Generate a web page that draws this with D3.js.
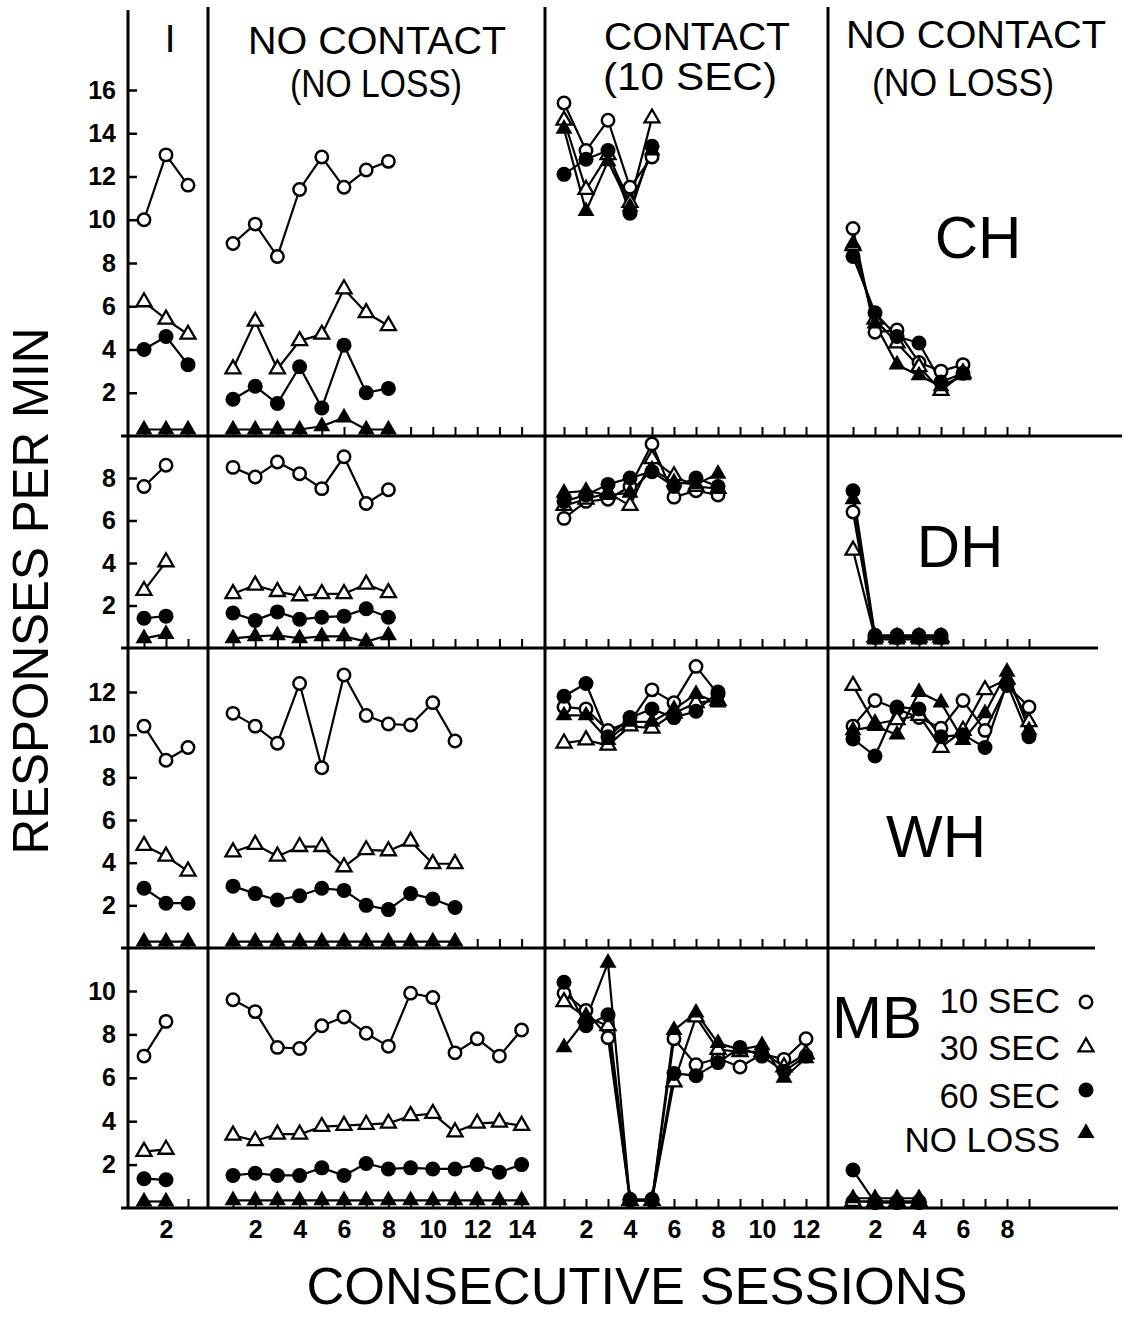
<!DOCTYPE html>
<html><head><meta charset="utf-8">
<script src="https://cdn.jsdelivr.net/npm/d3@7"></script>
<style>body{margin:0;background:#fff}svg{display:block}</style>
</head><body>
<svg id="c" width="1129" height="1317"></svg>
<script>
// ---------- categories / labels ----------
const seriesNames = ["10 SEC", "30 SEC", "60 SEC", "NO LOSS"];
const subjects = ["CH", "DH", "WH", "MB"];
const phaseTitles = [["I"], ["NO CONTACT", "(NO LOSS)"], ["CONTACT", "(10 SEC)"], ["NO CONTACT", "(NO LOSS)"]];
const yTickValues = [[2,4,6,8,10,12,14,16], [2,4,6,8], [2,4,6,8,10,12], [2,4,6,8,10]];
const yTopTick = [16, 8, 12, 10];
const phaseSessionTicks = [3, 14, 12, 9];
const phaseTickLabels = [[2], [2,4,6,8,10,12,14], [2,4,6,8,10,12], [2,4,6,8]];

// ---------- data: each array = [10 SEC, 30 SEC, 60 SEC, NO LOSS] ----------
const CH_I   = [[10.0,13.0,11.6],[6.2,5.4,4.7],[4.0,4.6,3.3],[0.3,0.3,0.3]];
const CH_NC1 = [[8.9,9.8,8.3,11.4,12.9,11.5,12.3,12.7],
                [3.1,5.3,3.1,4.4,4.7,6.8,5.7,5.1],
                [1.7,2.3,1.5,3.2,1.3,4.2,2.0,2.2],
                [0.3,0.3,0.3,0.3,0.45,0.85,0.3,0.3]];
const CH_C   = [[15.4,13.2,14.6,11.5,12.9],
                [14.6,11.4,13.0,10.8,14.7],
                [12.1,12.8,13.2,10.3,13.4],
                [14.2,10.4,12.7,10.6,13.2]];
const CH_NC2 = [[9.6,4.8,4.9,3.4,3.0,3.3],
                [8.8,5.4,4.3,3.2,2.1,2.9],
                [8.3,5.7,4.6,4.3,2.5,2.9],
                [8.9,5.2,3.3,2.8,2.3,2.8]];

const DH_I   = [[7.6,8.6],[2.7,4.05],[1.4,1.5],[0.45,0.65]];
const DH_NC1 = [[8.5,8.05,8.75,8.2,7.5,9.0,6.8,7.45],
                [2.55,2.95,2.65,2.45,2.55,2.55,3.0,2.6],
                [1.65,1.3,1.7,1.35,1.45,1.5,1.85,1.45],
                [0.45,0.55,0.6,0.45,0.55,0.55,0.3,0.6]];
const DH_C   = [[6.1,6.9,7.0,7.6,9.6,7.1,7.4,7.2],
                [6.7,7.0,7.3,6.7,8.9,8.1,7.6,7.5],
                [6.9,7.2,7.7,8.0,8.3,7.6,8.0,7.6],
                [7.3,7.4,7.2,7.3,8.4,7.8,7.7,8.2]];
const DH_NC2 = [[6.4,0.5,0.5,0.5,0.5],
                [4.6,0.5,0.5,0.5,0.5],
                [7.4,0.6,0.6,0.6,0.6],
                [7.0,0.4,0.4,0.4,0.4]];

const WH_I   = [[10.4,8.8,9.4],[4.8,4.3,3.6],[2.8,2.1,2.1],[0.3,0.3,0.3]];
const WH_NC1 = [[11.0,10.4,9.6,12.4,8.45,12.8,10.9,10.5,10.45,11.5,9.7],
                [4.5,4.85,4.3,4.75,4.75,3.8,4.6,4.55,5.0,3.95,3.95],
                [2.9,2.55,2.25,2.45,2.8,2.7,2.0,1.8,2.55,2.3,1.9],
                [0.3,0.3,0.3,0.3,0.3,0.3,0.3,0.3,0.3,0.3,0.3]];
const WH_C   = [[11.3,11.2,10.2,10.6,12.1,11.5,13.2,11.9],
                [9.6,9.75,9.5,10.4,10.3,11.0,11.5,11.6],
                [11.8,12.4,9.9,10.8,11.2,10.8,11.1,12.0],
                [10.9,10.9,9.75,10.6,10.6,11.2,11.9,11.5]];
const WH_NC2 = [[10.4,11.6,11.2,10.8,10.3,11.6,10.2,12.3,11.3],
                [12.3,10.5,10.7,10.9,9.4,10.2,12.1,12.6,10.6],
                [9.8,9.0,11.3,11.2,9.9,10.0,9.4,12.4,9.9],
                [10.2,10.4,10.0,12.0,11.5,9.75,11.0,12.95,10.2]];

const MB_I   = [[7.0,8.6],[2.6,2.7],[1.35,1.3],[0.3,0.3]];
const MB_NC1 = [[9.6,9.05,7.4,7.35,8.4,8.8,8.05,7.45,9.9,9.7,7.15,7.8,7.0,8.2],
                [3.35,3.1,3.4,3.4,3.75,3.8,3.85,3.9,4.25,4.35,3.5,3.9,3.95,3.8],
                [1.5,1.6,1.5,1.5,1.85,1.5,2.05,1.8,1.85,1.8,1.8,2.0,1.65,2.0],
                [0.35,0.35,0.35,0.35,0.35,0.35,0.35,0.35,0.35,0.35,0.35,0.35,0.35,0.35]];
const MB_C   = [[9.9,9.1,7.85,0.35,0.35,7.8,6.6,6.9,6.5,7.1,6.85,7.8],
                [9.5,8.8,8.4,0.35,0.35,5.8,8.8,7.3,7.2,7.2,6.5,7.1],
                [10.4,8.4,8.9,0.4,0.4,6.2,6.1,6.7,7.4,7.0,6.3,7.0],
                [7.4,8.7,11.3,0.35,0.35,8.2,9.0,7.6,7.3,7.5,6.0,6.9]];
const MB_NC2 = [[0.3,0.3,0.3,0.3],
                [0.3,0.3,0.3,0.3],
                [1.75,0.25,0.25,0.25],
                [0.45,0.45,0.45,0.45]];

const panelData = [
  [CH_I, CH_NC1, CH_C, CH_NC2],
  [DH_I, DH_NC1, DH_C, DH_NC2],
  [WH_I, WH_NC1, WH_C, WH_NC2],
  [MB_I, MB_NC1, MB_C, MB_NC2]
];

// ---------- layout ----------
const FONT = "'Liberation Sans', Arial, Helvetica, sans-serif";
const axisX = 128;
const colEdges = [128, 208, 545, 828];
const colSession1 = [144, 233, 564, 853];
const colStep = [22, 22.2, 22, 22];
const rowBottom = [436, 648, 948, 1208];
const rowTopTickPx = [90, 478, 692, 991];
const rowLineEnd = [1122, 1098, 1095, 1118];

const svg = d3.select("#c");
svg.append("rect").attr("width", 1129).attr("height", 1317).attr("fill", "#fff");

const yScales = rowBottom.map((b, r) =>
  d3.scaleLinear().domain([0, yTopTick[r]]).range([b, rowTopTickPx[r]]));
const xScales = colSession1.map((s1, c) =>
  d3.scaleLinear().domain([1, 2]).range([s1, s1 + colStep[c]]));

// frame lines
const frame = svg.append("g").attr("stroke", "#000").attr("stroke-width", 3).attr("fill", "none");
frame.append("line").attr("x1", axisX).attr("x2", axisX).attr("y1", 10).attr("y2", 1209);
colEdges.slice(1).forEach(x => {
  frame.append("line").attr("x1", x).attr("x2", x).attr("y1", 7).attr("y2", 1209);
});
rowBottom.forEach((b, r) => {
  frame.append("line").attr("x1", 121).attr("x2", rowLineEnd[r]).attr("y1", b).attr("y2", b);
});

// y axes
yScales.forEach((y, r) => {
  const g = svg.append("g").attr("transform", `translate(${axisX},0)`)
    .call(d3.axisLeft(y).tickValues(yTickValues[r]).tickSizeInner(-9).tickSizeOuter(0).tickPadding(12));
  g.select(".domain").remove();
  g.selectAll(".tick line").attr("stroke", "#000").attr("stroke-width", 2.5);
  g.selectAll(".tick text").attr("font-family", FONT).attr("font-weight", "bold")
    .attr("font-size", 25).attr("fill", "#000");
});

// x axes (ticks on every row, labels on the bottom row)
rowBottom.forEach((b, r) => {
  xScales.forEach((x, c) => {
    const ax = d3.axisBottom(x)
      .tickValues(d3.range(1, phaseSessionTicks[c] + 1))
      .tickSizeInner(-9).tickSizeOuter(0).tickPadding(12)
      .tickFormat(d => (r === 3 && phaseTickLabels[c].includes(d)) ? String(d) : "");
    const g = svg.append("g").attr("transform", `translate(0,${b})`).call(ax);
    g.select(".domain").remove();
    g.selectAll(".tick line").attr("stroke", "#000").attr("stroke-width", 2);
    g.selectAll(".tick text").attr("font-family", FONT).attr("font-weight", "bold")
      .attr("font-size", 25).attr("fill", "#000");
  });
});

// marker drawing
const triSmall = d3.symbol().type(d3.symbolTriangle).size(15 * 15 * Math.sqrt(3) / 4);
const triBig = d3.symbol().type(d3.symbolTriangle).size(17 * 17 * Math.sqrt(3) / 4);
function marker(g, k, cx, cy) {
  if (k === 0) {
    g.append("circle").attr("cx", cx).attr("cy", cy).attr("r", 6.2)
      .attr("fill", "#fff").attr("stroke", "#000").attr("stroke-width", 2.5);
  } else if (k === 1) {
    g.append("path").attr("d", triSmall()).attr("transform", `translate(${cx},${cy})`)
      .attr("fill", "#fff").attr("stroke", "#000").attr("stroke-width", 2.3).attr("stroke-linejoin", "miter");
  } else if (k === 2) {
    g.append("circle").attr("cx", cx).attr("cy", cy).attr("r", 7.5).attr("fill", "#000");
  } else {
    g.append("path").attr("d", triBig()).attr("transform", `translate(${cx},${cy})`).attr("fill", "#000");
  }
}

// data
panelData.forEach((rowPanels, r) => {
  const y = yScales[r];
  rowPanels.forEach((series, c) => {
    const x = xScales[c];
    const g = svg.append("g");
    const line = d3.line().x((d, i) => x(i + 1)).y(d => y(d));
    series.forEach((vals, k) => {
      g.append("path").attr("d", line(vals)).attr("fill", "none")
        .attr("stroke", "#000").attr("stroke-width", 2.2).attr("stroke-linejoin", "round");
    });
    [0, 1, 3, 2].forEach(k => {
      series[k].forEach((v, i) => marker(g, k, x(i + 1), y(v)));
    });
  });
});

// phase headers
const headerPos = [
  [{x: 170, y: 52, len: null}],
  [{x: 377, y: 54, len: 258}, {x: 376, y: 97, len: 172}],
  [{x: 697, y: 50, len: 186}, {x: 690, y: 90, len: 174}],
  [{x: 976, y: 48, len: 260}, {x: 963, y: 96, len: 182}]
];
phaseTitles.forEach((lines, c) => {
  lines.forEach((t, j) => {
    const p = headerPos[c][j];
    const tx = svg.append("text").attr("x", p.x).attr("y", p.y).attr("text-anchor", "middle")
      .attr("font-family", FONT).attr("font-size", 38.5).attr("fill", "#000").text(t);
    if (p.len) tx.attr("textLength", p.len).attr("lengthAdjust", "spacingAndGlyphs");
  });
});

// subject labels
const subjPos = [{x: 978, y: 258, a: "middle"}, {x: 960, y: 567, a: "middle"},
                 {x: 936, y: 857, a: "middle"}, {x: 832, y: 1038, a: "start"}];
subjects.forEach((s, r) => {
  svg.append("text").attr("x", subjPos[r].x).attr("y", subjPos[r].y)
    .attr("text-anchor", subjPos[r].a).attr("font-family", FONT).attr("font-size", 60)
    .attr("fill", "#000").text(s);
});

// legend
const legBase = [1013, 1060, 1108, 1152];
const legMarkY = [1002, 1047, 1090, 1133];
seriesNames.forEach((s, k) => {
  svg.append("text").attr("x", 1060).attr("y", legBase[k]).attr("text-anchor", "end")
    .attr("font-family", FONT).attr("font-size", 35).attr("fill", "#000").text(s);
  marker(svg, k, 1086, legMarkY[k]);
});

// axis titles
svg.append("text").attr("transform", "translate(48,591) rotate(-90)")
  .attr("text-anchor", "middle").attr("font-family", FONT).attr("font-size", 50)
  .attr("textLength", 527).attr("lengthAdjust", "spacingAndGlyphs")
  .attr("fill", "#000").text("RESPONSES PER MIN");
svg.append("text").attr("x", 637).attr("y", 1304).attr("text-anchor", "middle")
  .attr("font-family", FONT).attr("font-size", 51)
  .attr("textLength", 661).attr("lengthAdjust", "spacingAndGlyphs")
  .attr("fill", "#000").text("CONSECUTIVE SESSIONS");
</script>
</body></html>
